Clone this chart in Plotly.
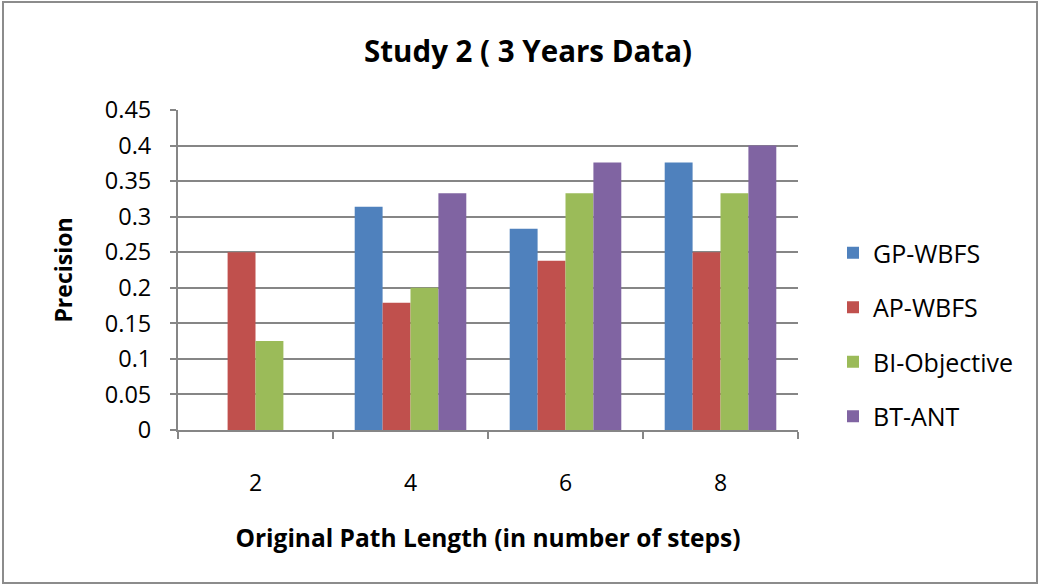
import plotly.graph_objects as go

# Data
categories = ["2", "4", "6", "8"]
gp_wbfs = [0.0, 0.314, 0.283, 0.376]
ap_wbfs = [0.25, 0.179, 0.238, 0.25]
bi_objective = [0.125, 0.2, 0.333, 0.333]
bt_ant = [0.0, 0.333, 0.376, 0.4]

series_names = ["GP-WBFS", "AP-WBFS", "BI-Objective", "BT-ANT"]
series_values = [gp_wbfs, ap_wbfs, bi_objective, bt_ant]
colors = ["#4F81BD", "#C0504D", "#9BBB59", "#8064A2"]
y_ticks = [0, 0.05, 0.1, 0.15, 0.2, 0.25, 0.3, 0.35, 0.4, 0.45]
y_tick_text = ["0", "0.05", "0.1", "0.15", "0.2", "0.25", "0.3", "0.35", "0.4", "0.45"]

FONT = "Open Sans"
W, H = 1040, 585
L, R, T, B = 178, 242, 110, 155

fig = go.Figure()
for name, vals, c in zip(series_names, series_values, colors):
    fig.add_trace(go.Bar(
        x=categories, y=vals, name=name, legendgroup=name,
        marker=dict(color=c, line=dict(width=0)),
    ))

pw = W - L - R
ph = H - T - B

# helpers: convert pixel positions into plot-area paper coordinates
def px_x(p):
    return (p - L) / pw

def px_y(p):
    return (H - B - p) / ph

fig.update_layout(
    width=W, height=H,
    margin=dict(l=L, r=R, t=T, b=B, pad=0),
    paper_bgcolor="white", plot_bgcolor="white",
    barmode="group", bargap=0.28, bargroupgap=0,
    font=dict(family=FONT, color="black", size=22),
    title=dict(text="<b>Study 2 ( 3 Years Data)</b>", x=528 / W, xanchor="center",
               xref="container",
               y=1 - 52 / H, yanchor="middle", font=dict(size=29.5, family=FONT)),
    legend=dict(x=px_x(833), xanchor="left", y=px_y(230), yanchor="top",
                font=dict(size=25, family=FONT), tracegroupgap=19,
                bgcolor="rgba(0,0,0,0)", itemwidth=30),
    showlegend=True,
    # outer chart border
    shapes=[dict(type="rect", xref="paper", yref="paper",
                 x0=px_x(3), x1=px_x(1037), y0=px_y(583), y1=px_y(2),
                 line=dict(color="#8C8C8C", width=2), fillcolor="rgba(0,0,0,0)",
                 layer="below")],
)

fig.update_xaxes(
    type="category", showline=True, linecolor="#868686", linewidth=2,
    ticks="outside", ticklen=7, tickwidth=2, tickcolor="#868686",
    tickson="boundaries", ticklabelstandoff=31, showgrid=False,
    tickfont=dict(size=23, family=FONT),
    title=dict(text="<b>Original Path Length (in number of steps)</b>",
               standoff=33, font=dict(size=24.5, family=FONT)),
)
fig.update_yaxes(
    range=[0, 0.45], tickvals=y_ticks, ticktext=y_tick_text,
    showline=True, linecolor="#868686", linewidth=2,
    ticks="outside", ticklen=6, tickwidth=2, tickcolor="#868686",
    showgrid=True, gridcolor="#868686", gridwidth=2, zeroline=False,
    ticklabelstandoff=14, tickfont=dict(size=23.5, family=FONT),
    title=dict(text="<b>Precision</b>", standoff=26, font=dict(size=23, family=FONT)),
)

fig.write_html("out.html")
